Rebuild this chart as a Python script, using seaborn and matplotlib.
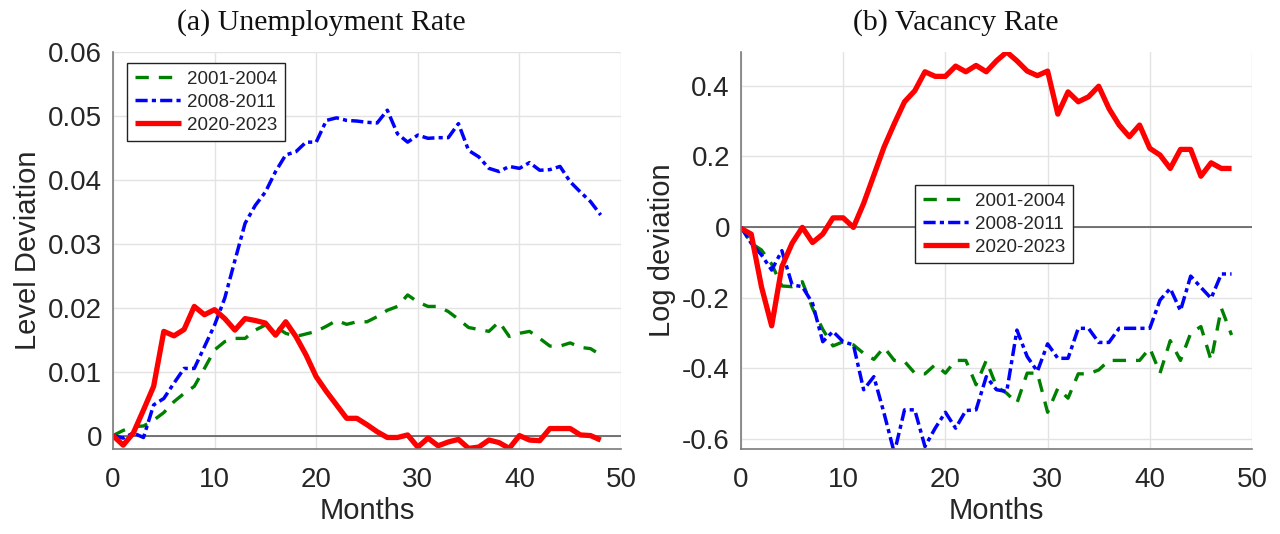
import numpy as np
import pandas as pd
import matplotlib
matplotlib.use("Agg")
import matplotlib.pyplot as plt
import seaborn as sns

months = list(range(49))
series_names = ["2001-2004", "2008-2011", "2020-2023"]

unemp_2001 = [0, 0.0008, 0.0014, 0.0015, 0.0024, 0.0036, 0.0053, 0.0066, 0.0077, 0.0105,
              0.0134, 0.0147, 0.0152, 0.0152, 0.0165, 0.0173, 0.0170, 0.0160, 0.0155, 0.0159,
              0.0163, 0.0171, 0.0180, 0.0174, 0.0178, 0.0178, 0.0186, 0.0196, 0.0202, 0.0220,
              0.0209, 0.0202, 0.0202, 0.0194, 0.0182, 0.0169, 0.0166, 0.0163, 0.0178, 0.0155,
              0.0160, 0.0163, 0.0152, 0.0140, 0.0140, 0.0145, 0.0138, 0.0136, 0.0126]
unemp_2008 = [0, -0.0004, 0.0004, -0.0003, 0.0048, 0.0058, 0.0082, 0.0105, 0.0105, 0.0139,
              0.0173, 0.0215, 0.0274, 0.0332, 0.0360, 0.0381, 0.0413, 0.0439, 0.0444, 0.0459,
              0.0459, 0.0493, 0.0497, 0.0493, 0.0492, 0.0490, 0.0489, 0.0509, 0.0472, 0.0459,
              0.0470, 0.0465, 0.0466, 0.0466, 0.0488, 0.0446, 0.0436, 0.0418, 0.0413, 0.0421,
              0.0418, 0.0427, 0.0415, 0.0416, 0.0421, 0.0397, 0.0381, 0.0366, 0.0345]
unemp_2020 = [0, -0.0015, 0.0004, 0.0040, 0.0077, 0.0163, 0.0156, 0.0166, 0.0202, 0.0189,
              0.0197, 0.0183, 0.0165, 0.0183, 0.0180, 0.0176, 0.0157, 0.0178, 0.0155, 0.0126,
              0.0092, 0.0069, 0.0048, 0.0027, 0.0027, 0.0017, 0.0006, -0.0003, -0.0003, 0.0001,
              -0.0018, -0.0004, -0.0016, -0.0010, -0.0006, -0.0020, -0.0018, -0.0007, -0.0011, -0.0020,
              0.0000, -0.0007, -0.0008, 0.0011, 0.0011, 0.0011, 0.0001, 0.0000, -0.0007]

vac_2001 = [0, -0.046, -0.065, -0.105, -0.167, -0.169, -0.155, -0.230, -0.290, -0.337,
            -0.325, -0.334, -0.358, -0.375, -0.341, -0.378, -0.381, -0.414, -0.416, -0.390,
            -0.414, -0.378, -0.378, -0.447, -0.378, -0.452, -0.471, -0.499, -0.414, -0.414,
            -0.525, -0.457, -0.485, -0.416, -0.416, -0.405, -0.378, -0.378, -0.378, -0.378,
            -0.343, -0.414, -0.322, -0.378, -0.301, -0.282, -0.378, -0.230, -0.306]
vac_2008 = [0, -0.046, -0.079, -0.122, -0.067, -0.164, -0.169, -0.216, -0.325, -0.296,
            -0.325, -0.334, -0.461, -0.424, -0.528, -0.640, -0.518, -0.518, -0.622, -0.570,
            -0.525, -0.570, -0.520, -0.518, -0.424, -0.461, -0.466, -0.292, -0.367, -0.409,
            -0.331, -0.372, -0.372, -0.287, -0.287, -0.327, -0.327, -0.287, -0.287, -0.287,
            -0.287, -0.207, -0.174, -0.237, -0.139, -0.171, -0.202, -0.133, -0.133]
vac_2020 = [-0.004, -0.020, -0.169, -0.280, -0.112, -0.046, -0.001, -0.044, -0.020, 0.026,
            0.026, -0.001, 0.067, 0.147, 0.227, 0.293, 0.355, 0.386, 0.440, 0.427,
            0.427, 0.456, 0.440, 0.458, 0.440, 0.471, 0.496, 0.471, 0.442, 0.429,
            0.442, 0.320, 0.383, 0.355, 0.369, 0.399, 0.336, 0.289, 0.256, 0.289,
            0.223, 0.204, 0.166, 0.220, 0.220, 0.144, 0.182, 0.166, 0.166]

x_ticks = [0, 10, 20, 30, 40, 50]
unemp_yticks = [0, 0.01, 0.02, 0.03, 0.04, 0.05, 0.06]
unemp_yticklabels = ["0", "0.01", "0.02", "0.03", "0.04", "0.05", "0.06"]
vac_yticks = [-0.6, -0.4, -0.2, 0, 0.2, 0.4]
vac_yticklabels = ["-0.6", "-0.4", "-0.2", "0", "0.2", "0.4"]

sns.set_theme(style="whitegrid")
plt.rcParams["font.family"] = ["Liberation Sans", "DejaVu Sans"]

styles = {
    "2001-2004": dict(color="#008000", linestyle=(0, (4, 3)), linewidth=2.4),
    "2008-2011": dict(color="#0000ff", linestyle=(0, (3.5, 1.2, 1.2, 1.2)), linewidth=2.5),
    "2020-2023": dict(color="#ff0000", linestyle="-", linewidth=3.8),
}

fig = plt.figure(figsize=(12.8, 5.34), dpi=100)
ax1 = fig.add_axes([113 / 1280, 1 - 449 / 534, 508 / 1280, 397 / 534])
ax2 = fig.add_axes([741 / 1280, 1 - 449 / 534, 511 / 1280, 397 / 534])

def draw(ax, data, ylim, yticks, yticklabels, ylabel, title, title_x, legend_anchor):
    ax.axhline(0, color="#505050", linewidth=1.1, zorder=1.5)
    for name, vals in zip(series_names, data):
        df = pd.DataFrame({"Months": months, "value": vals})
        sns.lineplot(data=df, x="Months", y="value", ax=ax, label=name,
                     solid_capstyle="butt", dash_capstyle="butt", **styles[name])
    ax.set_xlim(0, 50)
    ax.set_ylim(*ylim)
    ax.set_xticks(x_ticks)
    ax.set_xticklabels([str(t) for t in x_ticks])
    ax.set_yticks(yticks)
    ax.set_yticklabels(yticklabels)
    ax.grid(True, color="#e3e3e3", linewidth=1.0)
    ax.set_facecolor("white")
    for s in ["top", "right"]:
        ax.spines[s].set_visible(False)
    for s in ["left", "bottom"]:
        ax.spines[s].set_visible(True)
        ax.spines[s].set_color("#7a7a7a")
        ax.spines[s].set_linewidth(1.2)
    ax.tick_params(axis="both", direction="in", length=5, width=1.0, color="#555555",
                   labelsize=20, labelcolor="#262626")
    ax.tick_params(axis="y", pad=8)
    ax.tick_params(axis="x", pad=13)
    ax.set_xlabel("Months", fontsize=21, color="#262626", labelpad=3)
    ax.set_ylabel(ylabel, fontsize=21, color="#262626", labelpad=4)
    ax.set_title(title, fontsize=21.5, family=["Liberation Serif", "DejaVu Serif"],
                 color="#111111", x=title_x, y=1.0, pad=16)
    leg = ax.legend(loc="upper left", fontsize=13.5, frameon=True, fancybox=False,
                    edgecolor="#222222", framealpha=1, handlelength=2.5,
                    borderpad=0.4, labelspacing=0.32, handletextpad=0.3,
                    borderaxespad=0.0, bbox_to_anchor=legend_anchor,
                    bbox_transform=ax.transAxes)
    leg.get_frame().set_linewidth(1.0)
    return leg

draw(ax1, [unemp_2001, unemp_2008, unemp_2020], (-0.0021, 0.06),
     unemp_yticks, unemp_yticklabels, "Level Deviation", "(a) Unemployment Rate", 0.41,
     (14 / 508, 1 - 11 / 397))

draw(ax2, [vac_2001, vac_2008, vac_2020], (-0.629, 0.496),
     vac_yticks, vac_yticklabels, "Log deviation", "(b) Vacancy Rate", 0.42,
     (174 / 511, 1 - 133 / 397))

fig.savefig("out.png", dpi=100)
